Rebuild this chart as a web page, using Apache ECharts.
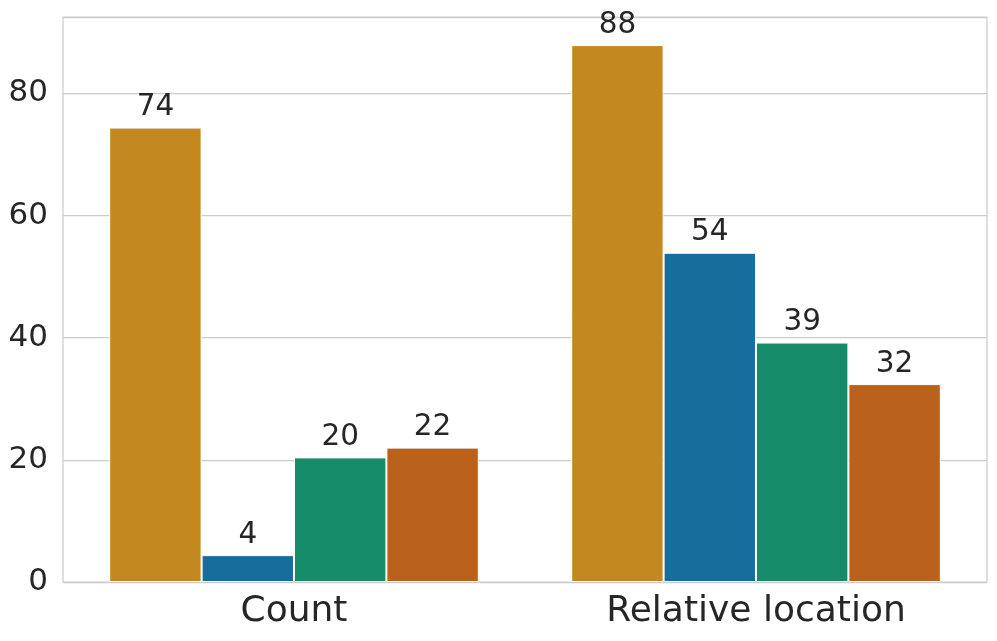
<!DOCTYPE html>
<html>
<head>
<meta charset="utf-8">
<script src="https://cdn.jsdelivr.net/npm/echarts@6/dist/echarts.min.js"></script>
<style>
html,body{margin:0;padding:0;background:#fff;}
#chart{width:997px;height:641px;}
</style>
</head>
<body>
<div id="chart"></div>
<script>
const categories = ["Count", "Relative location"];
const seriesNames = ["Group 1", "Group 2", "Group 3", "Group 4"];
const group1 = [74.4, 87.9];
const group2 = [4.4, 53.9];
const group3 = [20.4, 39.2];
const group4 = [22.0, 32.4];
const yTicks = [0, 20, 40, 60, 80];
const colors = ["#C38820", "#176D9C", "#168B6A", "#BA611B"];

const seriesData = [group1, group2, group3, group4];
const textColor = "#262626";
const font = "DejaVu Sans";

const chart = echarts.init(document.getElementById('chart'), null, {renderer: 'canvas'});
chart.setOption({
  animation: false,
  backgroundColor: '#ffffff',
  grid: {
    left: 63, right: 10, top: 17, bottom: 59,
    show: true, borderColor: '#cccccc', borderWidth: 1.25, backgroundColor: 'transparent'
  },
  xAxis: {
    type: 'category',
    data: categories,
    axisLine: {show: false},
    axisTick: {show: false},
    splitLine: {show: false},
    axisLabel: {color: textColor, fontFamily: font, fontSize: 36, margin: 12}
  },
  yAxis: {
    type: 'value',
    min: 0, max: 92.5, interval: 20,
    axisLine: {show: false},
    axisTick: {show: false},
    splitLine: {show: true, lineStyle: {color: '#cccccc', width: 1.25}},
    axisLabel: {
      color: textColor, fontFamily: font, fontSize: 31, margin: 15,
      showMaxLabel: false,
      formatter: function (v) { return yTicks.indexOf(v) >= 0 ? String(v) : ''; }
    }
  },
  series: seriesData.map((d, i) => ({
    name: seriesNames[i],
    type: 'bar',
    data: d,
    barGap: '0%',
    barCategoryGap: '20%',
    itemStyle: {color: colors[i], borderColor: '#ffffff', borderWidth: 1},
    label: {
      show: true, position: 'top', distance: 5,
      color: textColor, fontFamily: font, fontSize: 29.5,
      formatter: p => String(Math.round(p.value))
    }
  }))
});
</script>
</body>
</html>
